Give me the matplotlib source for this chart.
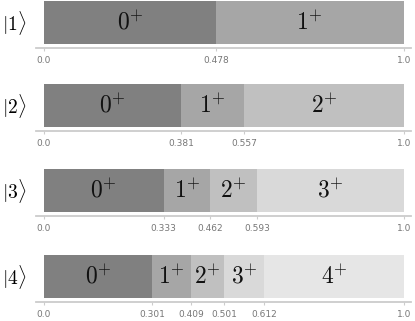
import matplotlib
matplotlib.use("Agg")
import matplotlib.pyplot as plt

plt.rcParams['mathtext.fontset'] = 'cm'

state_labels = [r'$|1\rangle$', r'$|2\rangle$', r'$|3\rangle$', r'$|4\rangle$']
segment_labels = [r'$0^{+}$', r'$1^{+}$', r'$2^{+}$', r'$3^{+}$', r'$4^{+}$']
# cumulative boundaries for each state
boundaries = [
    [0.0, 0.478, 1.0],
    [0.0, 0.381, 0.557, 1.0],
    [0.0, 0.333, 0.462, 0.593, 1.0],
    [0.0, 0.301, 0.409, 0.501, 0.612, 1.0],
]
tick_texts = [
    ['0.0', '0.478', '1.0'],
    ['0.0', '0.381', '0.557', '1.0'],
    ['0.0', '0.333', '0.462', '0.593', '1.0'],
    ['0.0', '0.301', '0.409', '0.501', '0.612', '1.0'],
]
colors = ['#808080', '#a6a6a6', '#c0c0c0', '#d9d9d9', '#e6e6e6']

W, H = 415, 321
fig = plt.figure(figsize=(W / 100, H / 100), dpi=100)

tops = [1, 84, 169, 255]
ax_h = 47
x0, x1 = 36, 411

for i, b in enumerate(boundaries):
    ax = fig.add_axes([x0 / W, 1 - (tops[i] + ax_h) / H, (x1 - x0) / W, ax_h / H])
    for j in range(len(b) - 1):
        ax.barh(0, b[j + 1] - b[j], left=b[j], height=1, color=colors[j],
                edgecolor='none')
        ax.text((b[j] + b[j + 1]) / 2, 0, segment_labels[j], ha='center',
                va='center', fontsize=17, color='#111111')
    ax.set_xlim(-0.022, 1.02)
    ax.set_ylim(-0.6, 0.5)
    ax.set_xticks(b)
    ax.set_xticklabels(tick_texts[i])
    ax.set_yticks([])
    for s in ['top', 'left', 'right']:
        ax.spines[s].set_visible(False)
    ax.spines['bottom'].set_color('#cccccc')
    ax.spines['bottom'].set_linewidth(1.3)
    ax.tick_params(axis='x', length=2, width=0.8, color='#cccccc',
                   labelsize=6.5, labelcolor='#777777', pad=4)
    fig.text(2 / W, 1 - (tops[i] + 22) / H, state_labels[i], ha='left',
             va='center', fontsize=14)

fig.savefig('out.png', dpi=100)
